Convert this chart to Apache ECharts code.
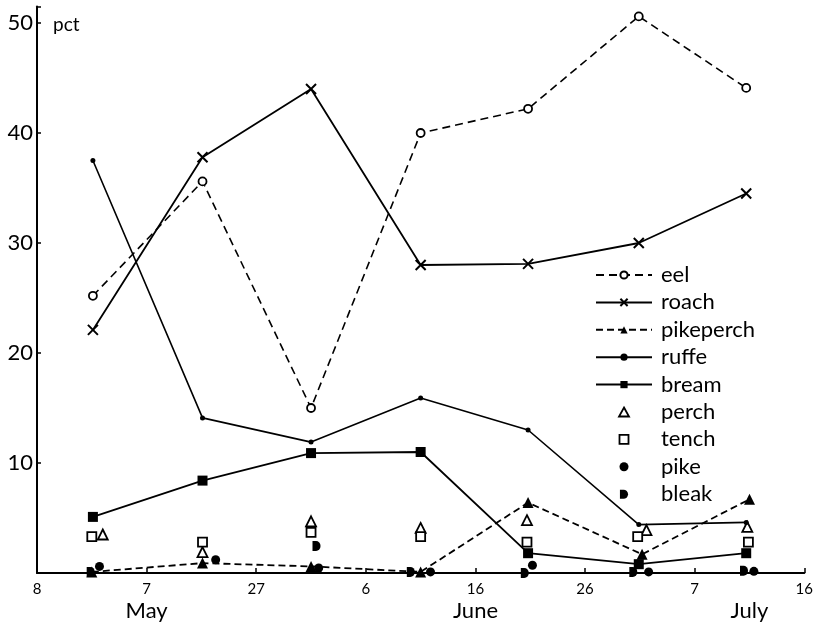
<!DOCTYPE html>
<html>
<head>
<meta charset="utf-8">
<script src="https://cdn.jsdelivr.net/npm/echarts@6/dist/echarts.min.js"></script>
<style>html,body{margin:0;padding:0;background:#fff;}#c{width:816px;height:628px;}</style>
</head>
<body>
<div id="c"></div>
<script>
// x: days from the first tick (each tick = 10 days)
var xTickLabels = ['8', '7', '27', '6', '16', '26', '7', '16'];
var monthLabels = { 10: 'May', 40: 'June', 65: 'July' };
var yTickValues = [10, 20, 30, 40, 50];

var sampleDays = [5.1, 15.1, 25, 35, 44.8, 54.9, 64.7];
var eel = [25.2, 35.6, 15.0, 40.0, 42.2, 50.6, 44.1];
var roach = [22.1, 37.8, 44.0, 28.0, 28.1, 30.0, 34.5];
var ruffe = [37.5, 14.1, 11.9, 15.9, 13.0, 4.4, 4.6];
var bream = [5.1, 8.4, 10.9, 11.0, 1.8, 0.8, 1.8];

var pikeperchDays = [5.0, 15.1, 25, 35, 44.8, 55.2, 65.0];
var pikeperch = [0.1, 0.9, 0.6, 0.1, 6.4, 1.7, 6.7];

var perchDays = [6.0, 15.1, 25, 35, 44.7, 55.6, 64.8];
var perch = [3.5, 1.9, 4.7, 4.1, 4.8, 3.9, 4.2];

var tenchDays = [5.0, 15.1, 25, 35, 44.7, 54.8, 64.9];
var tench = [3.3, 2.8, 3.7, 3.3, 2.8, 3.3, 2.8];

var pikeDays = [5.7, 16.3, 25.7, 35.9, 45.2, 55.8, 65.4];
var pike = [0.6, 1.2, 0.45, 0.1, 0.7, 0.1, 0.15];

var bleakDays = [4.9, 25.5, 34.1, 44.5, 54.4, 64.5];
var bleak = [0.1, 2.45, 0.1, 0.0, 0.1, 0.2];

function pairs(xs, ys) { return xs.map(function (x, i) { return [x, ys[i]]; }); }

var crossPath = 'path://M0,0L10,10M10,0L0,10';
var triPath = 'path://M5,0L10,9L0,9Z';
var rectPath = 'path://M0,0L10,0L10,10L0,10Z';
var circPath = 'path://M0,5A5,5 0 1 0 10,5A5,5 0 1 0 0,5Z';
var bleakPath = 'path://M0,0L4,0A5,5 0 0 1 4,10L0,10Z';
var font = 'Lato, "DejaVu Sans", sans-serif';

var chart = echarts.init(document.getElementById('c'), null, { renderer: 'canvas' });
chart.setOption({
  animation: false,
  backgroundColor: '#fff',
  textStyle: { fontFamily: font, color: '#000' },
  grid: { left: 37, right: 9, top: 6.5, bottom: 55 },
  legend: {
    orient: 'vertical', left: 590, top: 259,
    itemWidth: 56, itemHeight: 9, itemGap: 5.4, symbolKeepAspect: true,
    textStyle: { fontFamily: font, fontSize: 22, color: '#000', padding: [0, 0, 0, 4] },
    data: [
      'eel', 'roach', 'pikeperch', 'ruffe', 'bream',
      { name: 'perch', icon: triPath, itemStyle: { color: '#fff', borderColor: '#000', borderWidth: 1.8 } },
      { name: 'tench', icon: rectPath, itemStyle: { color: '#fff', borderColor: '#000', borderWidth: 1.8 } },
      { name: 'pike', icon: circPath },
      { name: 'bleak', icon: bleakPath }
    ]
  },
  xAxis: [{
    type: 'value', min: 0, max: 70, interval: 10,
    axisLine: { lineStyle: { color: '#000', width: 2 } },
    axisTick: { inside: true, length: 5, lineStyle: { color: '#000', width: 1.5 } },
    splitLine: { show: false },
    axisLabel: {
      margin: 9, fontSize: 15, color: '#000', fontFamily: font,
      formatter: function (v) { return xTickLabels[Math.round(v / 10)] || ''; }
    }
  }, {
    type: 'value', min: 0, max: 70, interval: 5, position: 'bottom', offset: 19,
    axisLine: { show: false }, axisTick: { show: false }, splitLine: { show: false },
    axisLabel: {
      margin: 8, fontSize: 22, color: '#000', fontFamily: font,
      formatter: function (v) { return monthLabels[v] || ''; }
    }
  }],
  yAxis: {
    type: 'value', min: 0, max: 51.5, interval: 10,
    name: 'pct', nameLocation: 'end', nameGap: -18,
    nameTextStyle: { align: 'left', verticalAlign: 'middle', fontSize: 19, color: '#000', padding: [0, 0, 0, 16], fontFamily: font },
    axisLine: { lineStyle: { color: '#000', width: 2 } },
    axisTick: { inside: true, length: 4, lineStyle: { color: '#000', width: 1.5 } },
    splitLine: { show: false },
    axisLabel: {
      margin: 4, fontSize: 22, color: '#000', fontFamily: font,
      formatter: function (v) { return yTickValues.indexOf(v) >= 0 ? String(v) : ''; }
    }
  },
  series: [
    { name: 'eel', type: 'line', clip: false, data: pairs(sampleDays, eel),
      symbol: 'circle', symbolSize: 8,
      lineStyle: { color: '#000', width: 1.6, type: [8, 5] },
      itemStyle: { color: '#fff', borderColor: '#000', borderWidth: 1.8 } },
    { name: 'roach', type: 'line', clip: false, data: pairs(sampleDays, roach),
      symbol: crossPath, symbolSize: 10,
      lineStyle: { color: '#000', width: 1.8 },
      itemStyle: { color: '#000', borderColor: '#000', borderWidth: 2 } },
    { name: 'pikeperch', type: 'line', clip: false, data: pairs(pikeperchDays, pikeperch),
      symbol: 'triangle', symbolSize: 11,
      lineStyle: { color: '#000', width: 1.8, type: [7, 4] },
      itemStyle: { color: '#000' } },
    { name: 'ruffe', type: 'line', clip: false, data: pairs(sampleDays, ruffe),
      symbol: 'circle', symbolSize: 5,
      lineStyle: { color: '#000', width: 1.6 },
      itemStyle: { color: '#000' } },
    { name: 'bream', type: 'line', clip: false, data: pairs(sampleDays, bream),
      symbol: 'rect', symbolSize: 10,
      lineStyle: { color: '#000', width: 1.8 },
      itemStyle: { color: '#000' } },
    { name: 'perch', type: 'scatter', clip: false, data: pairs(perchDays, perch),
      symbol: 'triangle', symbolSize: 10,
      itemStyle: { color: '#fff', borderColor: '#000', borderWidth: 1.8, opacity: 1 } },
    { name: 'tench', type: 'scatter', clip: false, data: pairs(tenchDays, tench),
      symbol: 'rect', symbolSize: 9,
      itemStyle: { color: '#fff', borderColor: '#000', borderWidth: 1.8, opacity: 1 } },
    { name: 'pike', type: 'scatter', clip: false, data: pairs(pikeDays, pike),
      symbol: 'circle', symbolSize: 9,
      itemStyle: { color: '#000', opacity: 1 } },
    { name: 'bleak', type: 'scatter', clip: false, data: pairs(bleakDays, bleak),
      symbol: bleakPath, symbolSize: [8, 10],
      itemStyle: { color: '#000', opacity: 1 } }
  ]
});
</script>
</body>
</html>
